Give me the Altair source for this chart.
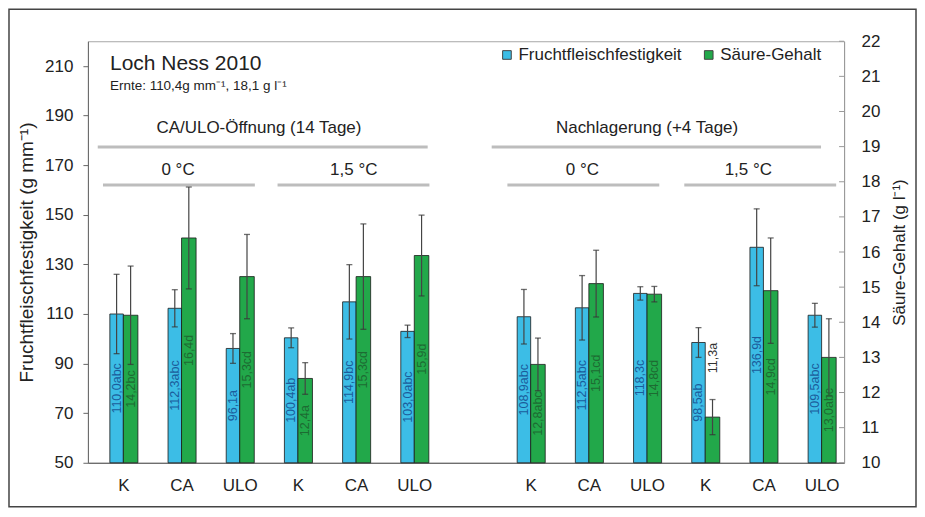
import altair as alt
import pandas as pd

# ---------------- data ----------------
slots = [1, 2, 3, 4, 5, 6, 8, 9, 10, 11, 12, 13]
categories = ["K", "CA", "ULO", "K", "CA", "ULO", "K", "CA", "ULO", "K", "CA", "ULO"]

firmness = [110.0, 112.3, 96.1, 100.4, 114.9, 103.0, 108.9, 112.5, 118.3, 98.5, 136.9, 109.5]
firmness_err = [16, 7.5, 6, 4, 15, 2.5, 11, 13, 2.7, 6, 15.5, 4.8]
firmness_labels = ["110,0abc", "112,3abc", "96,1a", "100,4ab", "114,9bc", "103,0abc",
                   "108,9abc", "112,5abc", "118,3c", "98,5ab", "136,9d", "109,5abc"]

acid = [14.2, 16.4, 15.3, 12.4, 15.3, 15.9, 12.8, 15.1, 14.8, 11.3, 14.9, 13.0]
acid_err = [1.4, 1.45, 1.2, 0.45, 1.5, 1.15, 0.75, 0.95, 0.22, 0.5, 1.5, 1.1]
acid_labels = ["14,2bc", "16,4d", "15,3cd", "12,4a", "15,3cd", "15,9d",
               "12,8abc", "15,1cd", "14,8cd", "11,3a", "14,9cd", "13,0abc"]

left_ticks = [50, 70, 90, 110, 130, 150, 170, 190, 210]
right_ticks = list(range(10, 23))

series = ["Fruchtfleischfestigkeit", "Säure-Gehalt"]
colors = ["#3cbde6", "#22a84a"]

title_text = ["Loch Ness 2010", "Ernte: 110,4g mm⁻¹, 18,1 g l⁻¹"]
group_text = ["CA/ULO-Öffnung  (14 Tage)", "Nachlagerung  (+4 Tage)",
              "0 °C", "1,5 °C", "0 °C", "1,5 °C"]
group_x = [3.33, 10.0, 1.94, 4.96, 8.89, 11.74]
group_y = [185, 185, 168, 168, 168, 168]
line_x1 = [0.56, 7.33, 0.65, 3.65, 7.60, 10.64]
line_x2 = [6.23, 12.99, 3.26, 6.26, 10.21, 13.25]
line_y = [177.3, 177.3, 162, 162, 162, 162]

FONT = "Liberation Sans"
W, H = 757, 422
X_DOMAIN = [0.391, 13.386]

# ---------------- frames ----------------
blue = pd.DataFrame({
    "slot": slots, "cat": categories, "v": firmness, "err": firmness_err,
    "lab": firmness_labels, "series": series[0]})
blue["base"] = 50
blue["x1"] = blue["slot"] - 0.232
blue["x2"] = blue["slot"]
blue["xc"] = blue["slot"] - 0.116
blue["lo"] = blue["v"] - blue["err"]
blue["hi"] = blue["v"] + blue["err"]
blue["mid"] = (blue["v"] + blue["base"]) / 2

green = pd.DataFrame({
    "slot": slots, "cat": categories, "v": acid, "err": acid_err,
    "lab": acid_labels, "series": series[1]})
green["base"] = 10
green["x1"] = green["slot"]
green["x2"] = green["slot"] + 0.25
green["xc"] = green["slot"] + 0.125
green["lo"] = green["v"] - green["err"]
green["hi"] = green["v"] + green["err"]
green["mid"] = (green["v"] + green["base"]) / 2
green["inside"] = (green["v"] - green["base"]) > 2
green["out_y"] = green["hi"] + 0.75

label_arr = [""] * 14
for s, c in zip(slots, categories):
    label_arr[s] = c
label_expr = "[" + ",".join("'" + c + "'" for c in label_arr) + "][datum.value]"

x_scale = alt.Scale(domain=X_DOMAIN, nice=False, zero=False)
x_axis = alt.Axis(values=slots, labelExpr=label_expr, ticks=False, grid=False,
                  title=None, labelFontSize=17, labelFont=FONT, labelColor="#222",
                  labelPadding=15, domainColor="#555", domainWidth=1.2)


def X(f):
    return alt.X(f, type="quantitative", scale=x_scale, axis=x_axis)


yl_scale = alt.Scale(domain=[50, 220], nice=False, zero=False)
yl_axis = alt.Axis(values=left_ticks, grid=False, title="Fruchtfleischfestigkeit (g mm⁻¹)",
                   titleFontSize=19, titleFont=FONT, titleFontWeight="normal", titleColor="#222",
                   labelFontSize=17, labelFont=FONT, labelColor="#222", tickSize=5,
                   labelPadding=10, tickColor="#666", domainColor="#666", titlePadding=8)
yr_scale = alt.Scale(domain=[10, 22], nice=False, zero=False)
yr_axis = alt.Axis(values=right_ticks, grid=False, orient="right", title="Säure-Gehalt (g l⁻¹)",
                   titleFontSize=17, titleFont=FONT, titleFontWeight="normal", titleColor="#222",
                   labelFontSize=17, labelFont=FONT, labelColor="#222", ticks=False,
                   labelPadding=17, domainColor="#999", titlePadding=12, titleAngle=270,
                   titleBaseline="top")


def YL(f):
    return alt.Y(f, type="quantitative", scale=yl_scale, axis=yl_axis)


def YR(f):
    return alt.Y(f, type="quantitative", scale=yr_scale, axis=yr_axis)


color = alt.Color("series:N", scale=alt.Scale(domain=series, range=colors),
                  legend=alt.Legend(title=None, orient="none", legendX=411, legendY=5,
                                    direction="horizontal", symbolType="square",
                                    symbolSize=75, symbolStrokeColor="#444",
                                    symbolStrokeWidth=1, labelFontSize=17,
                                    labelFont=FONT, labelColor="#222", labelLimit=0,
                                    columnPadding=18, labelOffset=3))

# ---------------- left (firmness) ----------------
b_bars = alt.Chart(blue).mark_bar(stroke="#1a1a1a", strokeWidth=0.8).encode(
    x=X("x1"), x2="x2", y=YL("v"), y2="base", color=color)
b_err = alt.Chart(blue).mark_rule(color="#444", strokeWidth=1.2).encode(
    x=X("xc"), y=YL("lo"), y2="hi")
b_cap_hi = alt.Chart(blue).mark_tick(orient="horizontal", size=6, thickness=1.3,
                                     color="#333").encode(x=X("xc"), y=YL("hi"))
b_cap_lo = alt.Chart(blue).mark_tick(orient="horizontal", size=6, thickness=1.3,
                                     color="#333").encode(x=X("xc"), y=YL("lo"))
b_text = alt.Chart(blue).mark_text(angle=270, align="center", baseline="middle",
                                   fontSize=12.5, font=FONT, color="#1b5c9c").encode(
    x=X("xc"), y=YL("mid"), text="lab:N")

ann_t = pd.DataFrame({"t": title_text, "x": [0.77, 0.77], "y": [211, 202], "s": [21, 13.5]})
ann_g = pd.DataFrame({"t": group_text, "x": group_x, "y": group_y})
ann_l = pd.DataFrame({"x1": line_x1, "x2": line_x2, "y": line_y})

t_title = alt.Chart(ann_t).mark_text(align="left", baseline="middle", font=FONT,
                                     color="#222").encode(
    x=X("x"), y=YL("y"), text="t:N", size=alt.Size("s:Q", scale=None, legend=None))
t_group = alt.Chart(ann_g).mark_text(align="center", baseline="middle", font=FONT,
                                     fontSize=17, color="#222").encode(
    x=X("x"), y=YL("y"), text="t:N")
t_lines = alt.Chart(ann_l).mark_rule(color="#bdbdbd", strokeWidth=3).encode(
    x=X("x1"), x2="x2", y=YL("y"))

border = alt.Chart(pd.DataFrame({"a": [0]})).mark_rect(
    fill=None, fillOpacity=0, stroke="#444", strokeWidth=1.5).encode(
    x=alt.value(-79), x2=alt.value(829), y=alt.value(-32), y2=alt.value(466))

left = alt.layer(border, t_lines, t_title, t_group, b_bars, b_err, b_cap_lo, b_cap_hi, b_text)

# ---------------- right (acid) ----------------
g_bars = alt.Chart(green).mark_bar(stroke="#1a1a1a", strokeWidth=0.8).encode(
    x=X("x1"), x2="x2", y=YR("v"), y2="base", color=color)
g_err = alt.Chart(green).mark_rule(color="#444", strokeWidth=1.2).encode(
    x=X("xc"), y=YR("lo"), y2="hi")
g_cap_hi = alt.Chart(green).mark_tick(orient="horizontal", size=6, thickness=1.3,
                                      color="#333").encode(x=X("xc"), y=YR("hi"))
g_cap_lo = alt.Chart(green).mark_tick(orient="horizontal", size=6, thickness=1.3,
                                      color="#333").encode(x=X("xc"), y=YR("lo"))
g_text_in = alt.Chart(green).transform_filter("datum.inside").mark_text(
    angle=270, align="center", baseline="middle", fontSize=12.5, font=FONT,
    color="#1d6b32").encode(x=X("xc"), y=YR("mid"), text="lab:N")
g_text_out = alt.Chart(green).transform_filter("!datum.inside").mark_text(
    angle=270, align="left", baseline="middle", fontSize=12.5, font=FONT,
    color="#333").encode(x=X("xc"), y=YR("out_y"), text="lab:N")
r_ticks = alt.Chart(pd.DataFrame({"t": right_ticks})).mark_rule(
    color="#999", strokeWidth=1).encode(x=alt.value(W - 5), x2=alt.value(W), y=YR("t"))

right = alt.layer(r_ticks, g_bars, g_err, g_cap_lo, g_cap_hi, g_text_in, g_text_out)

chart = alt.layer(left, right).resolve_scale(y="independent").properties(
    width=W, height=H, autosize="none",
    padding={"left": 80, "top": 33, "right": 73, "bottom": 45},
    background="white",
).configure_view(stroke="#a8a8a8", strokeWidth=1)

chart.save("out.html", embed_options={"renderer": "svg", "actions": False})
